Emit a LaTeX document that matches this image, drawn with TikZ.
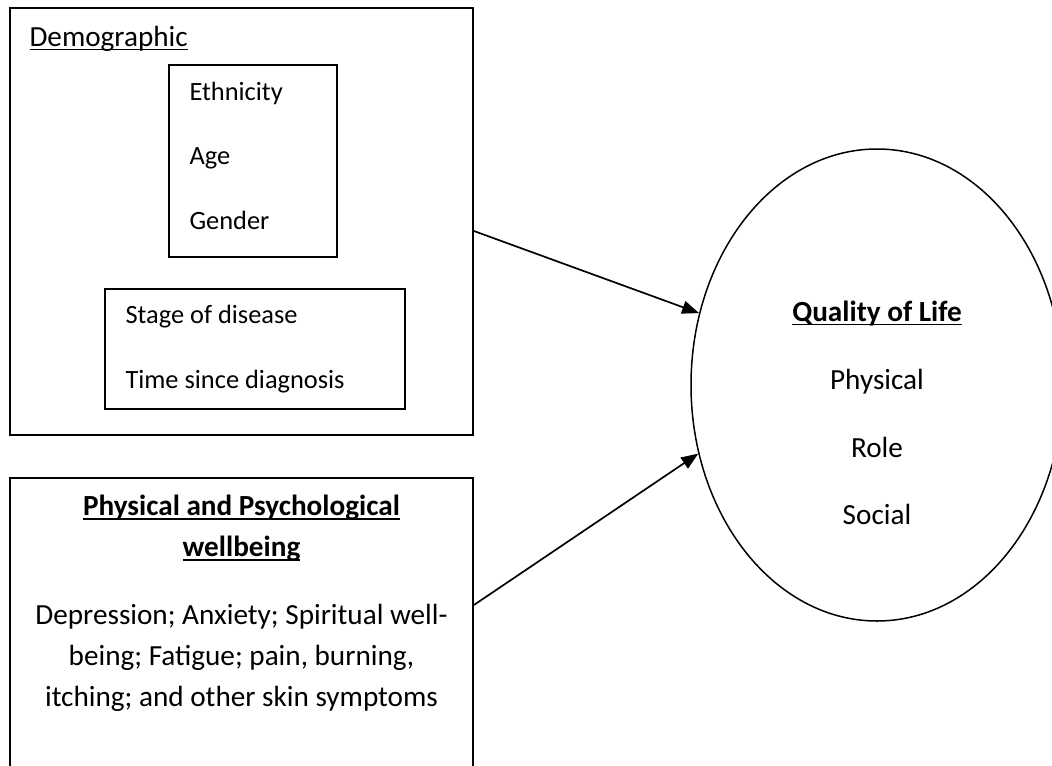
\documentclass[tikz,border=0pt]{standalone}
\usepackage{fontspec}
\setmainfont{Carlito}
\usetikzlibrary{shapes.geometric, arrows.meta, positioning}
\newsavebox{\ulbox}
\newcommand{\ulin}[1]{\sbox{\ulbox}{#1}\rlap{\rule[-2.2pt]{\wd\ulbox}{0.85pt}}\usebox{\ulbox}}
\tikzset{
	>={Triangle[length=8.5pt, width=6.5pt]}, % puntas rellenas
	every node/.style={font=\fontsize{13.2pt}{20.4pt}\selectfont}, % texto tipo Calibri
	big/.style={font=\fontsize{14.6pt}{20.4pt}\selectfont}, % texto algo mayor
	box/.style={draw, line width=0.9pt, inner sep=0pt}, % marcos de los grupos
	item/.style={anchor=base west, inner sep=0pt}, % entradas alineadas a la izquierda
	entry/.style={anchor=base, inner sep=0pt, big}, % entradas centradas
	link/.style={->, line width=0.85pt} % flechas hacia el resultado
}

\begin{document}
\begin{tikzpicture}[x=0.5pt, y=-0.5pt]
	\useasboundingbox (0,0) rectangle (1052,765);
	\clip (0,0) rectangle (1052,765);
	% grupo demografico
	\node[box, minimum width=231.5pt, minimum height=213.5pt] (demo) at (241.5,221.5) {};
	\node[item, big] (demolabel) at ([xshift=10pt, yshift=-19.5pt]demo.north west) {\ulin{Demographic}};
	\node[box, minimum width=84pt, minimum height=96pt] (ethbox) at (253,161) {};
	\node[item] (eth) at ([xshift=10.5pt, yshift=-18.35pt]ethbox.north west) {Ethnicity};
	\node[item] (age) at ([yshift=-32pt]eth.base west) {Age};
	\node[item] (gender) at ([yshift=-32.2pt]age.base west) {Gender};
	\node[box, minimum width=150pt, minimum height=60pt] (stagebox) at (255,349) {};
	\node[item] (stage) at ([xshift=10.5pt, yshift=-17.5pt]stagebox.north west) {Stage of disease};
	\node[item] (tsd) at ([yshift=-32.5pt]stage.base west) {Time since diagnosis};
	% bienestar
	\node[box, minimum width=231.5pt, minimum height=171pt] (wellbox) at (241.5,649) {};
	\node[big, anchor=north, align=center, inner sep=0pt] (wellhead) at ([yshift=-8.9pt]wellbox.north)
		{\textbf{\ulin{Physical and Psychological}}\\\textbf{\ulin{wellbeing}}};
	\node[big, anchor=north, align=center, inner sep=0pt] (wellbody) at ([yshift=-63.4pt]wellbox.north)
		{Depression; Anxiety; Spiritual well-\\being; Fatigue; pain, burning,\\itching; and other skin symptoms};
	% calidad de vida
	\node[draw, ellipse, line width=0.75pt, inner sep=0pt, minimum width=186pt, minimum height=236pt] (qol) at (877,385) {};
	\node[entry] (qoltitle) at ([yshift=32pt]qol.center) {\textbf{\ulin{Quality of Life}}};
	\node[entry] (phys) at ([yshift=-34pt]qoltitle.base) {Physical};
	\node[entry] (role) at ([yshift=-34pt]phys.base) {Role};
	\node[entry] (social) at ([yshift=-33.5pt]role.base) {Social};
	\draw[link] ([yshift=-4.75pt]demo.east) -- (qol.158);
	\draw[link] ([yshift=22pt]wellbox.east) -- (qol.201);
\end{tikzpicture}
\end{document}
